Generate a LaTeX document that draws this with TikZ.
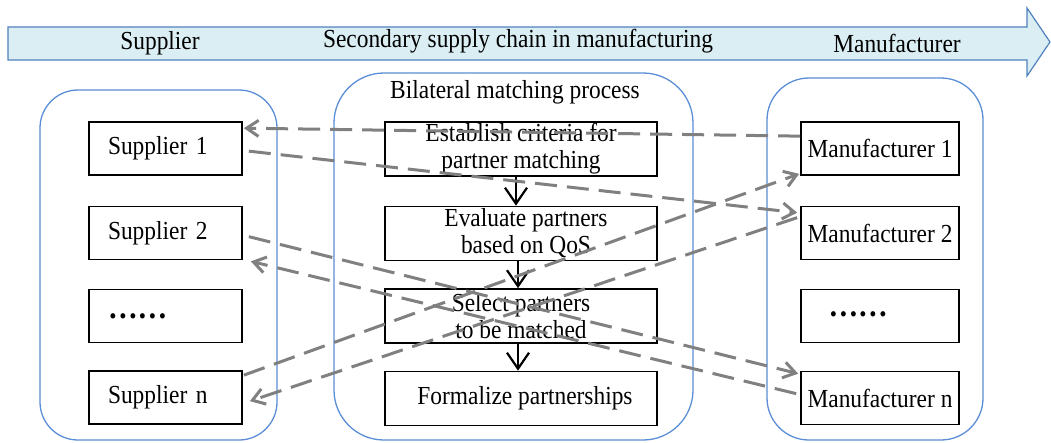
\documentclass[tikz,border=0pt]{standalone}
\usepackage{fontspec}
\setmainfont{Liberation Serif}[FakeStretch=0.9]
\usetikzlibrary{arrows.meta,calc}
\definecolor{frameblue}{RGB}{91,142,214}
\definecolor{bandfill}{RGB}{218,238,243}
\definecolor{bandline}{RGB}{79,129,189}
\definecolor{linkgray}{RGB}{128,128,128}
\begin{document}
\begin{tikzpicture}[x=1pt,y=-1pt,
  every node/.style={font=\fontsize{26}{27}\selectfont},
  group/.style={draw=frameblue,line width=1.3pt,rounded corners=#1},
  box/.style={draw=black,line width=1.7pt,inner ysep=0pt,minimum height=53pt},
  supbox/.style={box,minimum width=153pt,text width=115pt,inner xsep=19pt,align=left},
  manbox/.style={box,minimum width=158pt,inner xsep=0pt},
  stepbox/.style={box,minimum width=272pt,inner xsep=0pt,align=center,minimum height=54pt},
  flow/.style={line width=2.2pt,-{Straight Barb[length=16pt,width=22pt]}},
  link/.style={draw=linkgray,line width=3pt,dash pattern=on 22pt off 10pt,
    -{Straight Barb[length=12pt,width=16pt]}},
  dots/.style={font=\fontsize{33}{33}\selectfont\bfseries}
]
\useasboundingbox (0,0) rectangle (1051,442);

% banner arrow along the top
\draw[draw=bandline,fill=bandfill,line width=1.2pt]
  (8,27) -- (1027,27) -- (1027,8) -- (1050,42) -- (1027,76) -- (1027,60) -- (8,60) -- cycle;
\node (bandS) at (160,43) {Supplier};
\node (bandT) at (518,41) {Secondary supply chain in manufacturing};
\node (bandM) at (897,43) {Manufacturer};

% the three groups
\draw[group=38pt] (40,90) rectangle (277,440);
\draw[group=50pt] (334,73) rectangle (693,440);
\draw[group=42pt] (767,78) rectangle (983,440);
\node (title) at (515,92) {Bilateral matching process};

% suppliers
\node[supbox] (s1) at (165.5,148.5) {Supplier 1};
\node[supbox] (s2) at (165.5,233) {Supplier 2};
\node[supbox,dots] (s3) at (165.5,316) {……};
\node[supbox] (sn) at (165.5,397.5) {Supplier n};

% manufacturers
\node[manbox] (m1) at (880,148.5) {Manufacturer 1};
\node[manbox] (m2) at (880,233) {Manufacturer 2};
\node[manbox,dots,text width=103pt,inner xsep=27.5pt,align=left] (m3) at (880,316) {\raisebox{4pt}{……}};
\node[manbox] (mn) at (880,398) {Manufacturer n};

% matching steps
\node[stepbox] (p1) at (521,149) {Establish criteria for\\partner matching};
\node[stepbox] (p2) at (521,233.5) {\hspace*{10pt}Evaluate partners\\\hspace*{10pt}based on QoS};
\node[stepbox] (p3) at (521,316) {Select partners\\to be matched};
\node[stepbox] (p4) at (521,398.5) {\hspace*{8pt}Formalize partnerships};

\draw[flow] ([xshift=-5pt]p1.south) -- ([xshift=-5pt]p2.north);
\draw[flow] ([xshift=-3pt]p2.south) -- ([xshift=-3pt]p3.north);
\draw[flow] ([xshift=-3pt]p3.south) -- ([xshift=-3pt]p4.north);

% supplier <-> manufacturer links
\draw[link] ([yshift=-15pt]m1.north west) -- ([xshift=1pt,yshift=-7pt]s1.north east);
\draw[link] ([xshift=6pt,yshift=-30pt]s1.north east) -- ([xshift=-3pt,yshift=-7pt]m2.north west);
\draw[link] ([xshift=6pt,yshift=-31pt]s2.north east) -- ([xshift=-2pt,yshift=-3pt]mn.north west);
\draw[link] ([xshift=-4pt,yshift=-23pt]mn.north west) -- ([xshift=8pt,yshift=-1pt]s2.south east);
\draw[link] ([xshift=1pt,yshift=-5pt]sn.north east) -- ([xshift=-1pt,yshift=2pt]m1.south west);
\draw[link] ([xshift=-3pt,yshift=-12pt]m2.north west) -- ([xshift=7pt,yshift=-31pt]sn.north east);
\end{tikzpicture}
\end{document}
